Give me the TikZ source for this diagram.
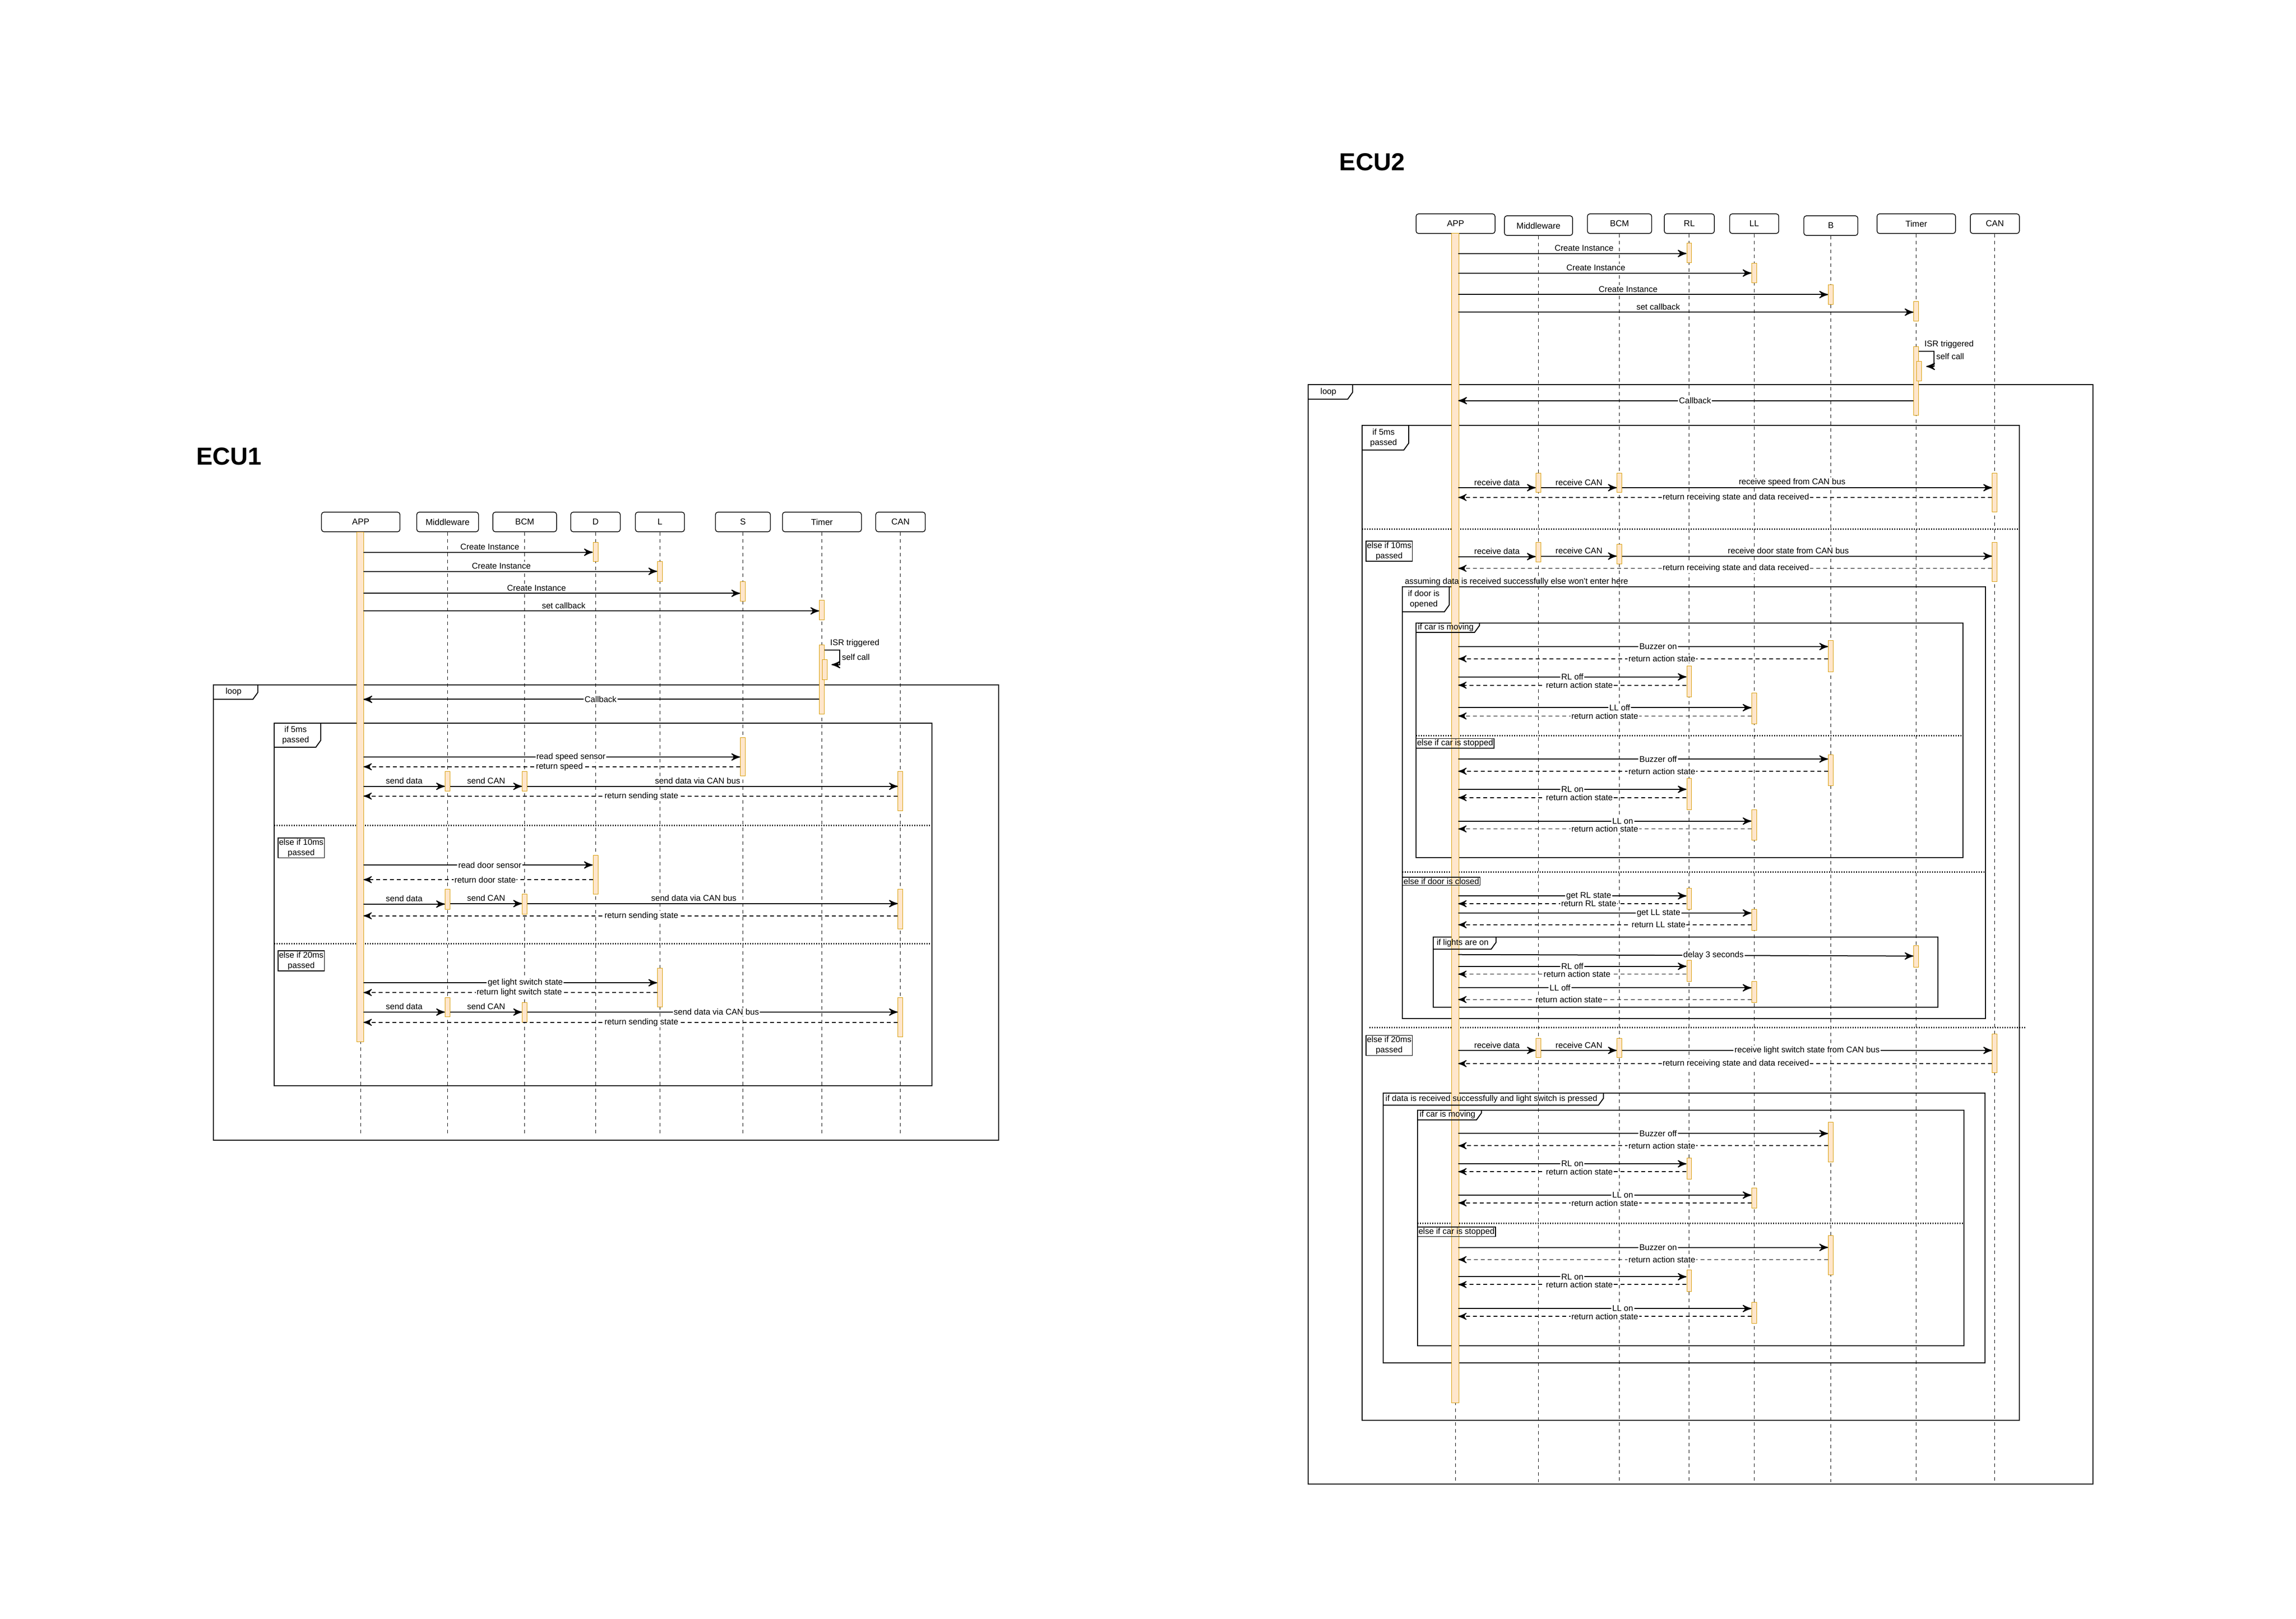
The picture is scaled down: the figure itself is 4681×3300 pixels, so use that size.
\documentclass[tikz,border=0pt]{standalone}
\usepackage{fontspec}
\setmainfont{Liberation Sans}
\usetikzlibrary{arrows}
\usetikzlibrary{calc}
\definecolor{barfill}{HTML}{FFE6CC}
\definecolor{barline}{HTML}{D79B00}
\newcommand{\lbfont}{\fontsize{3.4}{4.2}\selectfont}
\newcommand{\hdfont}{\fontsize{3.5}{4.2}\selectfont}
\tikzset{>=stealth'}
\tikzset{part/.style={draw, rounded corners=1pt, line width=0.3pt, minimum height=8pt, inner sep=0pt, font=\hdfont}}
\tikzset{life/.style={dash pattern=on 1.4pt off 1.4pt, line width=0.2pt}}
\tikzset{bar/.style={draw=barline, fill=barfill, line width=0.2pt}}
\tikzset{call/.style={->, line width=0.4pt, shorten <=1.1pt, shorten >=1.1pt}}
\tikzset{ret/.style={->, line width=0.35pt, dash pattern=on 1.6pt off 1.2pt, shorten <=1.1pt, shorten >=1.1pt}}
\tikzset{lbl/.style={fill=white, inner sep=0.4pt, font=\lbfont}}
\tikzset{lblup/.style={lbl, yshift=2.2pt}}
\tikzset{frm/.style={line width=0.4pt}}
\tikzset{sep/.style={line width=0.6pt, dash pattern=on 0.4pt off 0.6pt}}
\tikzset{guard/.style={draw, line width=0.3pt, inner sep=0.4pt, align=center, font=\lbfont}}
\tikzset{tabtxt/.style={inner sep=0pt, align=center, font=\lbfont}}
\tikzset{ttl/.style={inner sep=0pt, font=\fontsize{10}{12}\selectfont\bfseries}}
% activation bar on a lifeline: [shift]{lifeline}{top}{bottom}
\newcommand{\act}[4][0]{\draw[bar] ($(#2 |- 0,#3)+({#1-5},0)$) rectangle ($(#2 |- 0,#4)+({#1+5},0)$);}
% frame tab: {name}{x0}{y0}{x right}{y bottom}{text}
\newcommand{\frametab}[6]{%
  \draw[frm] (#2,#5) -- ({#4-10},#5) -- (#4,{#5-14}) -- (#4,#3);
  \node[tabtxt] (#1) at ({(#2+#4-8)/2},{(#3+#5)/2}) {#6};}

\begin{document}
\begin{tikzpicture}[x=0.2pt, y=-0.2pt]
\useasboundingbox (0,0) rectangle (4681,3300);

%% ECU1
\begin{scope}[shift={(435,1044)}, xscale=0.995, yscale=0.996, shift={(-435,-1044)}]
\node[ttl] (ecu1) at (467,930) {ECU1};

\node[part, minimum width=32pt] (app1) at (737,1064) {APP};
\node[part, minimum width=25.2pt] (mw1) at (915,1064) {Middleware};
\node[part, minimum width=26pt] (bcm1) at (1073,1064) {BCM};
\node[part, minimum width=20.2pt] (d1) at (1218,1064) {D};
\node[part, minimum width=20pt] (l1) at (1350,1064) {L};
\node[part, minimum width=22.4pt] (s1) at (1520,1064) {S};
\node[part, minimum width=32.2pt] (tmr1) at (1682,1064) {Timer};
\node[part, minimum width=20.2pt] (can1) at (1843,1064) {CAN};

\draw[frm] (435,1397) rectangle (2044,2329);
\draw[frm] (560,1476) rectangle (1907,2218);
\draw[sep] (560,1685) -- (1907,1685);
\draw[sep] (560,1927) -- (1907,1927);

\foreach \n in {app1,mw1,bcm1,d1,l1,s1,tmr1,can1}
  \draw[life] (\n.south) -- (\n |- 0,2316);

\draw[bar] ($(app1 |- 0,1085)+(-8,0)$) rectangle ($(app1 |- 0,2128)+(6,0)$);
\act{d1}{1106}{1145} \act{d1}{1746}{1826}
\act{l1}{1145}{1186} \act{l1}{1977}{2057}
\act{s1}{1186}{1226} \act{s1}{1505}{1584}
\act{tmr1}{1224}{1264} \act{tmr1}{1316}{1457} \act[6]{tmr1}{1346}{1387}
\act{mw1}{1575}{1615} \act{mw1}{1816}{1857} \act{mw1}{2037}{2077}
\act{bcm1}{1575}{1615} \act{bcm1}{1826}{1867} \act{bcm1}{2048}{2088}
\act{can1}{1575}{1655} \act{can1}{1816}{1897} \act{can1}{2037}{2118}

\frametab{loop1}{435}{1397}{526}{1427}{loop}
\frametab{alt1}{560}{1476}{655}{1525}{if 5ms\\passed}
\node[guard] (gten1) at (615,1731) {else if 10ms\\passed};
\node[guard] (gtwenty1) at (615,1962) {else if 20ms\\passed};

\draw[call] (app1 |- 0,1126) -- node[lblup,pos=.55] {Create Instance} (d1 |- 0,1126);
\draw[call] (app1 |- 0,1165) -- node[lblup,pos=.47] {Create Instance} (l1 |- 0,1165);
\draw[call] (app1 |- 0,1210) -- node[lblup,pos=.46] {Create Instance} (s1 |- 0,1210);
\draw[call] (app1 |- 0,1246) -- node[lblup,pos=.44] {set callback} (tmr1 |- 0,1246);

\node[tabtxt, anchor=west] (isr1) at (1698,1312) {ISR triggered};
\draw[call, shorten <=0pt] ($(tmr1 |- 0,1326)+(5,0)$) -| ++(31,30) -- ++(-22,0);
\node[tabtxt, anchor=west] (self1) at (1722,1341) {self call};

\draw[call] (tmr1 |- 0,1427) -- node[lbl,pos=.48] {Callback} (app1 |- 0,1427);

\draw[call] (app1 |- 0,1545) -- node[lbl,pos=.55] {read speed sensor} (s1 |- 0,1545);
\draw[ret] (s1 |- 0,1565) -- node[lbl,pos=.48] {return speed} (app1 |- 0,1565);
\draw[call] (app1 |- 0,1605) -- node[lblup] {send data} (mw1 |- 0,1605);
\draw[call] (mw1 |- 0,1605) -- node[lblup] {send CAN} (bcm1 |- 0,1605);
\draw[call] (bcm1 |- 0,1605) -- node[lblup,pos=.46] {send data via CAN bus} (can1 |- 0,1605);
\draw[ret] (can1 |- 0,1625) -- node[lbl,pos=.48] {return sending state} (app1 |- 0,1625);

\draw[call] (app1 |- 0,1766) -- node[lbl,pos=.55] {read door sensor} (d1 |- 0,1766);
\draw[ret] (d1 |- 0,1796) -- node[lbl,pos=.47] {return door state} (app1 |- 0,1796);
\draw[call] (app1 |- 0,1846) -- node[lblup] {send data} (mw1 |- 0,1846);
\draw[call] (mw1 |- 0,1845) -- node[lblup] {send CAN} (bcm1 |- 0,1845);
\draw[call] (bcm1 |- 0,1845) -- node[lblup,pos=.45] {send data via CAN bus} (can1 |- 0,1845);
\draw[ret] (can1 |- 0,1870) -- node[lbl,pos=.48] {return sending state} (app1 |- 0,1870);

\draw[call] (app1 |- 0,2007) -- node[lbl,pos=.55] {get light switch state} (l1 |- 0,2007);
\draw[ret] (l1 |- 0,2027) -- node[lbl,pos=.47] {return light switch state} (app1 |- 0,2027);
\draw[call] (app1 |- 0,2067) -- node[lblup] {send data} (mw1 |- 0,2067);
\draw[call] (mw1 |- 0,2067) -- node[lblup] {send CAN} (bcm1 |- 0,2067);
\draw[call] (bcm1 |- 0,2067) -- node[lbl,pos=.51] {send data via CAN bus} (can1 |- 0,2067);
\draw[ret] (can1 |- 0,2088) -- node[lbl,pos=.48] {return sending state} (app1 |- 0,2088);
\end{scope}

%% ECU2
\begin{scope}[shift={(2667,436)}, xscale=0.995, yscale=0.9965, shift={(-2667,-436)}]
\node[ttl] (ecu2) at (2798,330) {ECU2};

\node[part, minimum width=32.2pt] (app2) at (2969,456) {APP};
\node[part, minimum width=27.8pt] (mw2) at (3139,460) {Middleware};
\node[part, minimum width=26.2pt] (bcm2) at (3305,456) {BCM};
\node[part, minimum width=20.4pt] (rl2) at (3448,456) {RL};
\node[part, minimum width=20pt] (ll2) at (3581,456) {LL};
\node[part, minimum width=22pt] (b2) at (3738,460) {B};
\node[part, minimum width=32pt] (tmr2) at (3913,456) {Timer};
\node[part, minimum width=20pt] (can2) at (4074,456) {CAN};

\draw[frm] (2667,785) rectangle (4275,3034);
\draw[frm] (2778,869) rectangle (4124,2904);
\draw[sep] (2778,1081) -- (4124,1081);
\draw[frm] (2860,1199) rectangle (4055,2082);
\draw[frm] (2888,1273) rectangle (4009,1753);
\draw[sep] (2888,1503) -- (4009,1503);
\draw[sep] (2860,1782) -- (4055,1782);
\draw[frm] (2923,1915) rectangle (3957,2059);
\draw[sep] (2793,2100) -- (4139,2100);
\draw[frm] (2821,2234) rectangle (4054,2786);
\draw[frm] (2891,2269) rectangle (4011,2751);
\draw[sep] (2891,2501) -- (4011,2501);

\foreach \n in {app2,mw2,bcm2,rl2,ll2,b2,tmr2,can2}
  \draw[life] (\n.south) -- (\n |- 0,3030);

\draw[bar] ($(app2 |- 0,476)+(-8,0)$) rectangle ($(app2 |- 0,2868)+(7,0)$);
\act{rl2}{496}{536} \act{rl2}{1361}{1424} \act{rl2}{1591}{1655} \act{rl2}{1815}{1858}
\act{rl2}{1963}{2006} \act{rl2}{2367}{2410} \act{rl2}{2596}{2640}
\act{ll2}{537}{577} \act{ll2}{1416}{1479} \act{ll2}{1655}{1717} \act{ll2}{1858}{1902}
\act{ll2}{2006}{2049} \act{ll2}{2428}{2470} \act{ll2}{2662}{2705}
\act{b2}{581}{621} \act{b2}{1309}{1373} \act{b2}{1542}{1606} \act{b2}{2294}{2375} \act{b2}{2526}{2606}
\act{tmr2}{615}{655} \act{tmr2}{707}{848} \act[6]{tmr2}{738}{778} \act{tmr2}{1933}{1977}
\act{mw2}{966}{1006} \act{mw2}{1108}{1148} \act{mw2}{2122}{2162}
\act{bcm2}{966}{1006} \act{bcm2}{1112}{1152} \act{bcm2}{2122}{2162}
\act{can2}{966}{1046} \act{can2}{1108}{1188} \act{can2}{2113}{2193}

\frametab{loop2}{2667}{785}{2758}{815}{loop}
\frametab{alt2}{2778}{869}{2873}{919}{if 5ms\\passed}
\node[guard] (gten2) at (2833,1126) {else if 10ms\\passed};
\node[tabtxt, anchor=west] (assume) at (2864,1189) {assuming data is received successfully else won't enter here};
\frametab{dooropen}{2860}{1199}{2956}{1250}{if door is\\opened}
\frametab{movingA}{2888}{1273}{3018}{1292}{if car is moving}
\node[guard] (stoppedA) at (2968,1519) {else if car is stopped};
\node[guard] (doorclosed) at (2940,1801) {else if door is closed};
\frametab{lightson}{2923}{1915}{3052}{1940}{if lights are on}
\node[guard] (gtwenty2) at (2833,2137) {else if 20ms\\passed};
\frametab{pressed}{2821}{2234}{3272}{2259}{if data is received successfully and light switch is pressed}
\frametab{movingB}{2891}{2269}{3022}{2289}{if car is moving}
\node[guard] (stoppedB) at (2971,2518) {else if car is stopped};

\draw[call] (app2 |- 0,517) -- node[lblup,pos=.55] {Create Instance} (rl2 |- 0,517);
\draw[call] (app2 |- 0,557) -- node[lblup,pos=.47] {Create Instance} (ll2 |- 0,557);
\draw[call] (app2 |- 0,601) -- node[lblup,pos=.46] {Create Instance} (b2 |- 0,601);
\draw[call] (app2 |- 0,637) -- node[lblup,pos=.44] {set callback} (tmr2 |- 0,637);

\node[tabtxt, anchor=west] (isr2) at (3929,703) {ISR triggered};
\draw[call, shorten <=0pt] ($(tmr2 |- 0,717)+(5,0)$) -| ++(32,31) -- ++(-22,0);
\node[tabtxt, anchor=west] (self2) at (3953,727) {self call};

\draw[call] (tmr2 |- 0,818) -- node[lbl,pos=.48] {Callback} (app2 |- 0,818);

% if 5ms passed
\draw[call] (app2 |- 0,996) -- node[lblup] {receive data} (mw2 |- 0,996);
\draw[call] (mw2 |- 0,996) -- node[lblup] {receive CAN} (bcm2 |- 0,996);
\draw[call] (bcm2 |- 0,996) -- node[lblup,pos=.46] {receive speed from CAN bus} (can2 |- 0,996);
\draw[ret] (can2 |- 0,1016) -- node[lbl,pos=.48] {return receiving state and data received} (app2 |- 0,1016);

% else if 10ms passed
\draw[call] (app2 |- 0,1137) -- node[lblup] {receive data} (mw2 |- 0,1137);
\draw[call] (mw2 |- 0,1136) -- node[lblup] {receive CAN} (bcm2 |- 0,1136);
\draw[call] (bcm2 |- 0,1136) -- node[lblup,pos=.45] {receive door state from CAN bus} (can2 |- 0,1136);
\draw[ret] (can2 |- 0,1161) -- node[lbl,pos=.48] {return receiving state and data received} (app2 |- 0,1161);

\draw[call] (app2 |- 0,1321) -- node[lbl,pos=.54] {Buzzer on} (b2 |- 0,1321);
\draw[ret] (b2 |- 0,1346) -- node[lbl,pos=.45] {return action state} (app2 |- 0,1346);
\draw[call] (app2 |- 0,1383) -- node[lbl] {RL off} (rl2 |- 0,1383);
\draw[ret] (rl2 |- 0,1400) -- node[lbl,pos=.47] {return action state} (app2 |- 0,1400);
\draw[call] (app2 |- 0,1446) -- node[lbl,pos=.55] {LL off} (ll2 |- 0,1446);
\draw[ret] (ll2 |- 0,1463) -- node[lbl] {return action state} (app2 |- 0,1463);

\draw[call] (app2 |- 0,1551) -- node[lbl,pos=.54] {Buzzer off} (b2 |- 0,1551);
\draw[ret] (b2 |- 0,1576) -- node[lbl,pos=.45] {return action state} (app2 |- 0,1576);
\draw[call] (app2 |- 0,1613) -- node[lbl] {RL on} (rl2 |- 0,1613);
\draw[ret] (rl2 |- 0,1630) -- node[lbl,pos=.47] {return action state} (app2 |- 0,1630);
\draw[call] (app2 |- 0,1678) -- node[lbl,pos=.56] {LL on} (ll2 |- 0,1678);
\draw[ret] (ll2 |- 0,1694) -- node[lbl] {return action state} (app2 |- 0,1694);

\draw[call] (app2 |- 0,1831) -- node[lbl,pos=.57] {get RL state} (rl2 |- 0,1831);
\draw[ret] (rl2 |- 0,1847) -- node[lbl,pos=.43] {return RL state} (app2 |- 0,1847);
\draw[call] (app2 |- 0,1866) -- node[lbl,pos=.68] {get LL state} (ll2 |- 0,1866);
\draw[ret] (ll2 |- 0,1890) -- node[lbl,pos=.32] {return LL state} (app2 |- 0,1890);

\draw[call] (app2 |- 0,1951) -- node[lbl,pos=.56] {delay 3 seconds} (tmr2 |- 0,1954);
\draw[call] (app2 |- 0,1975) -- node[lbl] {RL off} (rl2 |- 0,1975);
\draw[ret] (rl2 |- 0,1991) -- node[lbl,pos=.48] {return action state} (app2 |- 0,1991);
\draw[call] (app2 |- 0,2019) -- node[lbl,pos=.35] {LL off} (ll2 |- 0,2019);
\draw[ret] (ll2 |- 0,2043) -- node[lbl,pos=.62] {return action state} (app2 |- 0,2043);

% else if 20ms passed
\draw[call] (app2 |- 0,2147) -- node[lblup] {receive data} (mw2 |- 0,2147);
\draw[call] (mw2 |- 0,2147) -- node[lblup] {receive CAN} (bcm2 |- 0,2147);
\draw[call] (bcm2 |- 0,2147) -- node[lbl,pos=.5] {receive light switch state from CAN bus} (can2 |- 0,2147);
\draw[ret] (can2 |- 0,2174) -- node[lbl,pos=.48] {return receiving state and data received} (app2 |- 0,2174);

\draw[call] (app2 |- 0,2317) -- node[lbl,pos=.54] {Buzzer off} (b2 |- 0,2317);
\draw[ret] (b2 |- 0,2342) -- node[lbl,pos=.45] {return action state} (app2 |- 0,2342);
\draw[call] (app2 |- 0,2379) -- node[lbl] {RL on} (rl2 |- 0,2379);
\draw[ret] (rl2 |- 0,2395) -- node[lbl,pos=.47] {return action state} (app2 |- 0,2395);
\draw[call] (app2 |- 0,2443) -- node[lbl,pos=.56] {LL on} (ll2 |- 0,2443);
\draw[ret] (ll2 |- 0,2459) -- node[lbl] {return action state} (app2 |- 0,2459);

\draw[call] (app2 |- 0,2550) -- node[lbl,pos=.54] {Buzzer on} (b2 |- 0,2550);
\draw[ret] (b2 |- 0,2575) -- node[lbl,pos=.45] {return action state} (app2 |- 0,2575);
\draw[call] (app2 |- 0,2610) -- node[lbl] {RL on} (rl2 |- 0,2610);
\draw[ret] (rl2 |- 0,2626) -- node[lbl,pos=.47] {return action state} (app2 |- 0,2626);
\draw[call] (app2 |- 0,2675) -- node[lbl,pos=.56] {LL on} (ll2 |- 0,2675);
\draw[ret] (ll2 |- 0,2691) -- node[lbl] {return action state} (app2 |- 0,2691);
\end{scope}
\end{tikzpicture}
\end{document}
